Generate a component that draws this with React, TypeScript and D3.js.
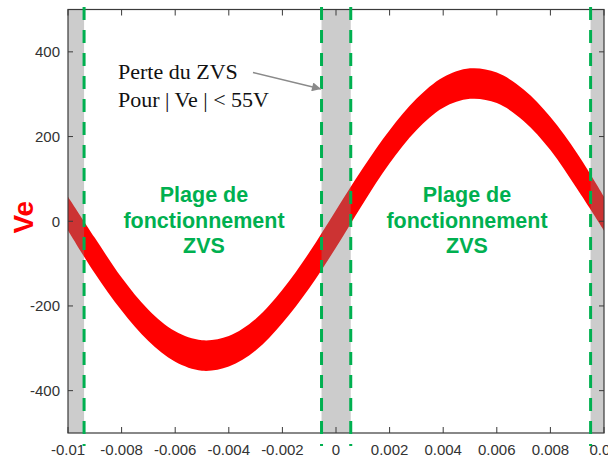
import React from "react";
import * as d3 from "d3";

// ---- data ----
const timeS = [
  -0.01, -0.009, -0.008, -0.007, -0.006, -0.005, -0.004, -0.003, -0.002, -0.001,
  0, 0.001, 0.002, 0.003, 0.004, 0.005, 0.006, 0.007, 0.008, 0.009, 0.01,
];
const veUpper = [
  58, -39, -133, -209, -260, -281, -271, -231, -162, -74,
  26, 125, 215, 289, 340, 361, 351, 311, 246, 160, 58,
];
const veLower = [
  -22, -123, -211, -283, -332, -353, -343, -305, -240, -158,
  -62, 41, 137, 215, 268, 289, 279, 237, 168, 76, -22,
];

const xTicks = [-0.01, -0.008, -0.006, -0.004, -0.002, 0, 0.002, 0.004, 0.006, 0.008, 0.01];
const xTickLabels = ["-0.01", "-0.008", "-0.006", "-0.004", "-0.002", "0", "0.002", "0.004", "0.006", "0.008", "0.01"];
const yTicks = [-400, -200, 0, 200, 400];
const yTickLabels = ["-400", "-200", "0", "200", "400"];

const lossBandStart = [-0.01, -0.00054, 0.0095];
const lossBandEnd = [-0.0094, 0.00055, 0.01];
const zvsLimits = [-0.0094, -0.00054, 0.00055, 0.0095];

const zvsLabelLines = ["Plage de", "fonctionnement", "ZVS"];
const zvsLabelCenters = [-0.005, 0.005];
const noteLines = ["Perte du ZVS", "Pour | Ve | < 55V"];

const W = 608;
const H = 459;
const X0 = 68;
const X1 = 604;
const Y0 = 9.5;
const Y1 = 433;

export default function App() {
  const x = d3.scaleLinear().domain([-0.01, 0.01]).range([X0, X1]);
  const y = d3.scaleLinear().domain([-500, 500]).range([Y1, Y0]);

  const rows = timeS.map((t, i) => ({ t, hi: veUpper[i], lo: veLower[i] }));
  const area = d3
    .area<{ t: number; hi: number; lo: number }>()
    .x((d) => x(d.t))
    .y0((d) => y(d.lo))
    .y1((d) => y(d.hi))
    .curve(d3.curveCatmullRom.alpha(0.5));

  const sans = "'Liberation Sans', Arial, sans-serif";
  const serif = "'Liberation Serif', 'Times New Roman', serif";
  const axisColor = "#3a3a3a";
  const green = "#00b050";

  return (
    <svg
      width={W}
      height={H}
      style={{ position: "absolute", left: 0, top: 0, background: "#fff" }}
    >
      <defs>
        <clipPath id="plotClip">
          <rect x={X0} y={Y0} width={X1 - X0} height={Y1 - Y0} />
        </clipPath>
        <marker
          id="arrowHead"
          viewBox="0 0 10 10"
          refX="10"
          refY="5"
          markerWidth="12"
          markerHeight="9"
          markerUnits="userSpaceOnUse"
          orient="auto"
        >
          <path d="M0,0 L10,5 L0,10 z" fill="#8a8a8a" />
        </marker>
      </defs>
      <rect x={0} y={0} width={W} height={H} fill="#fff" />

      {/* red signal band */}
      <g clipPath="url(#plotClip)">
        <path d={area(rows) || ""} fill="#ff0000" />
      </g>

      {/* ZVS loss bands */}
      {lossBandStart.map((s, i) => (
        <rect
          key={"b" + i}
          x={x(s)}
          y={Y0}
          width={x(lossBandEnd[i]) - x(s)}
          height={Y1 - Y0}
          fill="#808080"
          fillOpacity={0.4}
        />
      ))}

      {/* frame */}
      <rect x={X0} y={Y0} width={X1 - X0} height={Y1 - Y0} fill="none" stroke={axisColor} strokeWidth={1.2} />

      {/* ticks */}
      {xTicks.map((t, i) => (
        <g key={"xt" + i}>
          <line x1={x(t)} x2={x(t)} y1={Y1} y2={Y1 - 6} stroke={axisColor} strokeWidth={1} />
          <line x1={x(t)} x2={x(t)} y1={Y0} y2={Y0 + 6} stroke={axisColor} strokeWidth={1} />
          <text
            x={x(t)}
            y={455}
            textAnchor="middle"
            fontFamily={sans}
            fontSize={15}
            fill="#333"
          >
            {xTickLabels[i]}
          </text>
        </g>
      ))}
      {yTicks.map((v, i) => (
        <g key={"yt" + i}>
          <line x1={X0} x2={X0 + 5} y1={y(v)} y2={y(v)} stroke={axisColor} strokeWidth={1} />
          <line x1={X1} x2={X1 - 5} y1={y(v)} y2={y(v)} stroke={axisColor} strokeWidth={1} />
          <text
            x={60}
            y={y(v)}
            dy="0.36em"
            textAnchor="end"
            fontFamily={sans}
            fontSize={15}
            fill="#333"
          >
            {yTickLabels[i]}
          </text>
        </g>
      ))}

      {/* green dashed limits */}
      {zvsLimits.map((t, i) => (
        <line
          key={"g" + i}
          x1={x(t)}
          x2={x(t)}
          y1={7}
          y2={446}
          stroke={green}
          strokeWidth={3}
          strokeDasharray="13 10"
        />
      ))}

      {/* y label */}
      <text
        transform={`translate(33, ${y(0) - 4}) rotate(-90)`}
        textAnchor="middle"
        fontFamily={sans}
        fontWeight="bold"
        fontSize={28}
        fill="#ff0000"
      >
        Ve
      </text>

      {/* ZVS operation labels */}
      {zvsLabelCenters.map((c, k) => (
        <text
          key={"z" + k}
          textAnchor="middle"
          fontFamily={sans}
          fontWeight="bold"
          fontSize={21.5}
          fill={green}
        >
          {zvsLabelLines.map((l, j) => (
            <tspan key={j} x={x(c) + (k === 0 ? 2 : -3)} y={202 + j * 25.5}>
              {l}
            </tspan>
          ))}
        </text>
      ))}

      {/* annotation */}
      <text fontFamily={serif} fontSize={22} fill="#111">
        {noteLines.map((l, j) => (
          <tspan key={j} x={118} y={79 + j * 28}>
            {l}
          </tspan>
        ))}
      </text>
      <line
        x1={253}
        y1={72.5}
        x2={x(zvsLimits[1]) - 0.5}
        y2={89}
        stroke="#8a8a8a"
        strokeWidth={1.4}
        markerEnd="url(#arrowHead)"
      />
    </svg>
  );
}
